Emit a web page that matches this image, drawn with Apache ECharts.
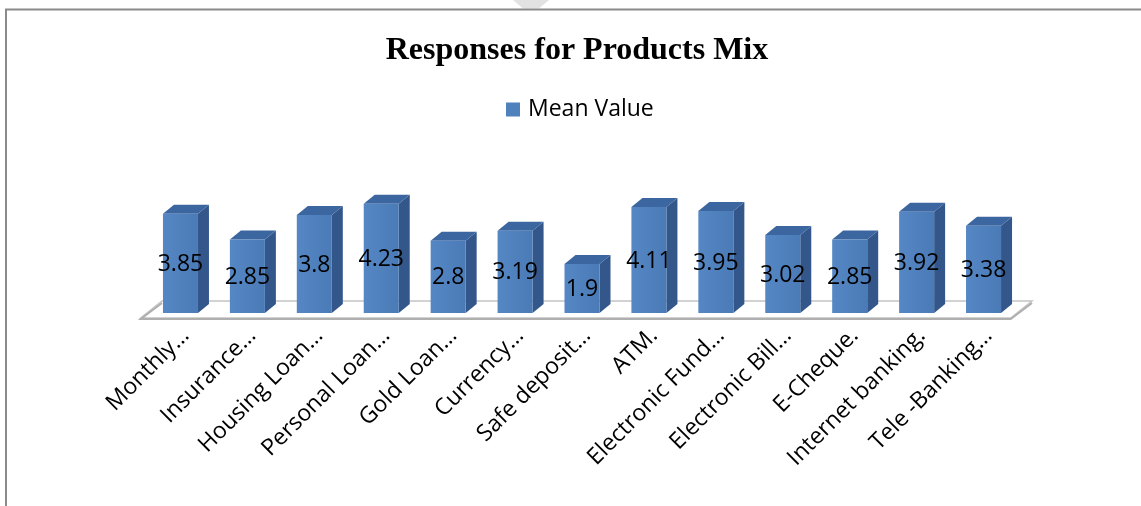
<!DOCTYPE html>
<html>
<head>
<meta charset="utf-8">
<script src="https://cdn.jsdelivr.net/npm/echarts@6/dist/echarts.min.js"></script>
<style>
  html, body { margin: 0; padding: 0; background: #ffffff; }
  #chart { width: 1141px; height: 506px; }
</style>
</head>
<body>
<div id="chart"></div>
<script>
// Category names as shown under the floor
const categories = [
  'Monthly\u2026', 'Insurance\u2026', 'Housing Loan\u2026', 'Personal Loan\u2026',
  'Gold Loan\u2026', 'Currency\u2026', 'Safe deposit\u2026', 'ATM.',
  'Electronic Fund\u2026', 'Electronic Bill\u2026', 'E-Cheque.', 'Internet banking.',
  'Tele -Banking\u2026'
];
// Mean response score per product
const meanValues = [3.85, 2.85, 3.8, 4.23, 2.8, 3.19, 1.9, 4.11, 3.95, 3.02, 2.85, 3.92, 3.38];

const seriesName = 'Mean Value';
const titleText = 'Responses for Products Mix';

// Face colours of the extruded bars
const FRONT = '#4f81bd';
const TOP = '#3c66a0';
const SIDE = '#33578a';
// Oblique depth of a bar and of the floor slab
const DEPTH_X = 11, DEPTH_Y = 9;
const FLOOR_FRONT = 5, FLOOR_BACK = 12, FLOOR_SLOPE = 1.25;
const BAR_RATIO = 35 / 66.9;
const LABEL_FONT = '"Open Sans", "DejaVu Sans", sans-serif';

const chart = echarts.init(document.getElementById('chart'));

function renderBar(params, api) {
  const idx = api.value(0);
  const val = api.value(1);
  const base = api.coord([idx, 0]);
  const top = api.coord([idx, val]);
  const band = api.size([1, 0])[0];
  const w = band * BAR_RATIO;
  const x0 = base[0] - w / 2, x1 = base[0] + w / 2;
  const yb = base[1], yt = top[1];
  const children = [];

  if (params.dataIndex === 0) {
    const cs = params.coordSys;
    const gy = cs.y + cs.height;
    const fy = gy + FLOOR_FRONT, by = gy - FLOOR_BACK;
    const fl = cs.x - FLOOR_FRONT * FLOOR_SLOPE, fr = cs.x + cs.width - FLOOR_FRONT * FLOOR_SLOPE;
    const bl = cs.x + FLOOR_BACK * FLOOR_SLOPE, br = cs.x + cs.width + FLOOR_BACK * FLOOR_SLOPE;
    children.push({
      type: 'polygon',
      shape: { points: [[fl, fy], [fr, fy], [br, by], [bl, by]] },
      style: { fill: '#ffffff', stroke: '#c4c4c4', lineWidth: 1.5 }
    });
    children.push({
      type: 'polyline',
      shape: { points: [[bl, by + 2], [fl, fy + 1], [fr, fy + 1], [br, by + 2]] },
      style: { fill: null, stroke: '#afafaf', lineWidth: 2 }
    });
  }

  children.push({
    type: 'polygon',
    shape: { points: [[x1, yb], [x1 + DEPTH_X, yb - DEPTH_Y], [x1 + DEPTH_X, yt - DEPTH_Y], [x1, yt]] },
    style: { fill: SIDE }
  });
  children.push({
    type: 'polygon',
    shape: { points: [[x0, yt], [x1, yt], [x1 + DEPTH_X, yt - DEPTH_Y], [x0 + DEPTH_X, yt - DEPTH_Y]] },
    style: { fill: TOP }
  });
  children.push({
    type: 'rect',
    shape: { x: x0, y: yt, width: w, height: yb - yt },
    style: {
      fill: new echarts.graphic.LinearGradient(0, 0, 1, 0, [
        { offset: 0, color: '#5587c4' },
        { offset: 1, color: '#4a7bb7' }
      ])
    }
  });
  children.push({
    type: 'text',
    x: base[0], y: (yt + yb) / 2 + 1,
    style: {
      text: String(val), fill: '#000000', font: '23px ' + LABEL_FONT,
      align: 'center', verticalAlign: 'middle'
    }
  });
  children.push({
    type: 'text',
    x: base[0] + 5, y: yb + 19,
    rotation: Math.PI / 4,
    style: {
      text: categories[idx], fill: '#000000', font: '23px ' + LABEL_FONT,
      align: 'right', verticalAlign: 'middle'
    }
  });
  return { type: 'group', children: children };
}

chart.setOption({
  backgroundColor: '#ffffff',
  animation: false,
  title: {
    text: titleText,
    left: 572, top: 30, textAlign: 'center',
    textStyle: { fontFamily: '"Liberation Serif", "Times New Roman", serif', fontWeight: 'bold', fontSize: 32, color: '#000000' }
  },
  legend: {
    data: [seriesName],
    left: 506, top: 98, padding: 0,
    itemWidth: 14, itemHeight: 14, icon: 'rect', itemGap: 0,
    textStyle: { fontFamily: LABEL_FONT, fontSize: 23, color: '#000000', padding: [0, 0, 0, 3] }
  },
  graphic: [
    { type: 'polygon', shape: { points: [[513, 0], [549, 0], [539, 8.5], [523, 8.5]] }, style: { fill: '#e2e2e2' }, z: 90 },
    { type: 'polyline', shape: { points: [[6, 506], [6, 9.5], [1141, 9.5]] }, style: { stroke: '#8a8a8a', lineWidth: 2, fill: null }, z: 100 }
  ],
  grid: { left: 147, right: 124, top: 184, bottom: 193 },
  xAxis: {
    type: 'category', data: categories,
    axisLine: { show: false }, axisTick: { show: false }, axisLabel: { show: false }, splitLine: { show: false }
  },
  yAxis: {
    type: 'value', min: 0, max: 5, interval: 1,
    axisLine: { show: false }, axisTick: { show: false }, axisLabel: { show: false }, splitLine: { show: false }
  },
  series: [{
    type: 'custom',
    name: seriesName,
    itemStyle: { color: FRONT },
    data: meanValues.map((v, i) => [i, v]),
    encode: { x: 0, y: 1 },
    renderItem: renderBar
  }]
});
</script>
</body>
</html>
